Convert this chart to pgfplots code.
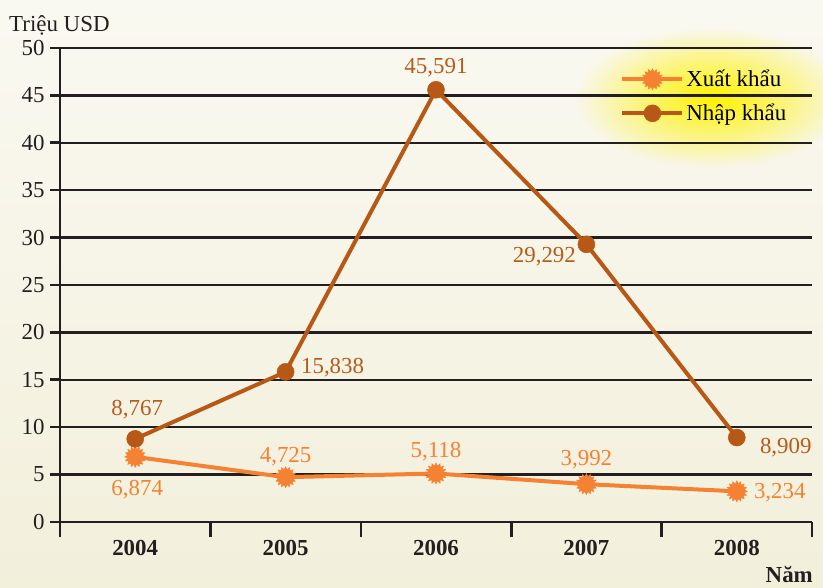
\documentclass[border=0pt]{standalone}
\usepackage{pgfplots}
\pgfplotsset{compat=1.18}
\usepackage{fontspec}
\setmainfont{Liberation Serif}
\usetikzlibrary{fadings}
\definecolor{bgtop}{HTML}{FAF9F1}
\definecolor{bgbot}{HTML}{F2EFDB}
\definecolor{impc}{HTML}{B85816}
\definecolor{imptxt}{HTML}{B65C1C}
\definecolor{expc}{HTML}{F58232}
\definecolor{gridc}{HTML}{231F20}
\definecolor{glowc}{HTML}{FFF200}
\tikzfading[name=glowfade, inner color=transparent!0, outer color=transparent!100]
\newcommand\bpo[1]{\pgfpathlineto{\pgfpointpolar{#1}{\pgfplotmarksize}}}
\newcommand\bpi[1]{\pgfpathlineto{\pgfpointpolar{#1}{0.72\pgfplotmarksize}}}
\pgfdeclareplotmark{burst}{%
  \pgfpathmoveto{\pgfpointpolar{0}{\pgfplotmarksize}}%
  \bpi{11.25}\bpo{22.5}\bpi{33.75}\bpo{45}\bpi{56.25}\bpo{67.5}\bpi{78.75}\bpo{90}%
  \bpi{101.25}\bpo{112.5}\bpi{123.75}\bpo{135}\bpi{146.25}\bpo{157.5}\bpi{168.75}\bpo{180}%
  \bpi{191.25}\bpo{202.5}\bpi{213.75}\bpo{225}\bpi{236.25}\bpo{247.5}\bpi{258.75}\bpo{270}%
  \bpi{281.25}\bpo{292.5}\bpi{303.75}\bpo{315}\bpi{326.25}\bpo{337.5}\bpi{348.75}%
  \pgfpathclose\pgfusepathqfillstroke}
\newcommand\fs{\fontsize{23}{26}\selectfont}
\begin{document}
\begin{tikzpicture}
\shade[top color=bgtop, bottom color=bgbot] (0,0) rectangle (823bp,588bp);
\useasboundingbox (0,0) rectangle (823bp,588bp);
\fill[glowc, path fading=glowfade] (575bp,420bp) rectangle (850bp,560bp);
\begin{axis}[
  at={(60bp,66bp)}, anchor=south west,
  scale only axis, width=752bp, height=474bp,
  xmin=-0.5, xmax=4.5, ymin=0, ymax=50,
  clip=false,
  axis x line*=bottom, axis y line*=left,
  axis line style={-, line width=2.6bp, draw=gridc},
  tick align=outside,
  tick style={line width=2.6bp, draw=gridc},
  major tick length=15bp,
  xtick={-0.5,0.5,1.5,2.5,3.5,4.5}, xticklabels={},
  extra x ticks={0,1,2,3,4},
  extra x tick labels={\textbf{2004},\textbf{2005},\textbf{2006},\textbf{2007},\textbf{2008}},
  extra x tick style={major tick length=0pt, tick style={draw=none}, xticklabel style={yshift=-15bp}},
  ytick=\empty,
  extra y ticks={0,5,...,50},
  extra y tick style={major tick length=10bp, grid=major, yticklabel style={xshift=-2bp}},
  major grid style={line width=2.5bp, draw=gridc},
  tick label style={font=\fs, text=gridc},
  /pgf/number format/assume math mode=true,
  legend style={at={(axis description cs:0.741,0.962)}, anchor=north west, draw=none, fill=none, font=\fs, row sep=12bp},
  legend cell align=left,
  legend image code/.code={\draw[mark repeat=2,mark phase=2,#1] plot coordinates {(0bp,0bp)(30bp,0bp)(60bp,0bp)};},
]
\addplot[expc, line width=4bp, mark=burst, mark size=10.5bp, mark options={fill=expc, draw=expc, line width=0.5bp}]
  coordinates {(0,6.874)(1,4.725)(2,5.118)(3,3.992)(4,3.234)};
\addlegendentry{Xuất khẩu}
\addplot[impc, line width=4bp, mark=*, mark size=8.5bp, mark options={fill=impc, draw=impc, line width=0.5bp}]
  coordinates {(0,8.767)(1,15.838)(2,45.591)(3,29.292)(4,8.909)};
\addlegendentry{Nhập khẩu}
\begin{scope}[every node/.style={font=\fs, text=imptxt, inner sep=0pt}]
\node[xshift=2bp, yshift=29bp] at (axis cs:0,8.767) {8,767};
\node[xshift=47bp, yshift=4bp] at (axis cs:1,15.838) {15,838};
\node[yshift=22bp] at (axis cs:2,45.591) {45,591};
\node[xshift=-42bp, yshift=-12bp] at (axis cs:3,29.292) {29,292};
\node[xshift=49bp, yshift=-10bp] at (axis cs:4,8.909) {8,909};
\end{scope}
\begin{scope}[every node/.style={font=\fs, text=expc, inner sep=0pt}]
\node[xshift=2bp, yshift=-33bp] at (axis cs:0,6.874) {6,874};
\node[yshift=21bp] at (axis cs:1,4.725) {4,725};
\node[yshift=22bp] at (axis cs:2,5.118) {5,118};
\node[yshift=24bp] at (axis cs:3,3.992) {3,992};
\node[xshift=43bp, yshift=-1bp] at (axis cs:4,3.234) {3,234};
\end{scope}
\end{axis}
\node[anchor=west, font=\fs, text=gridc, inner sep=0pt] at (9bp,563bp) {Triệu USD};
\node[anchor=east, font=\fs\bfseries, text=gridc, inner sep=0pt] at (813bp,13bp) {Năm};
\end{tikzpicture}
\end{document}
